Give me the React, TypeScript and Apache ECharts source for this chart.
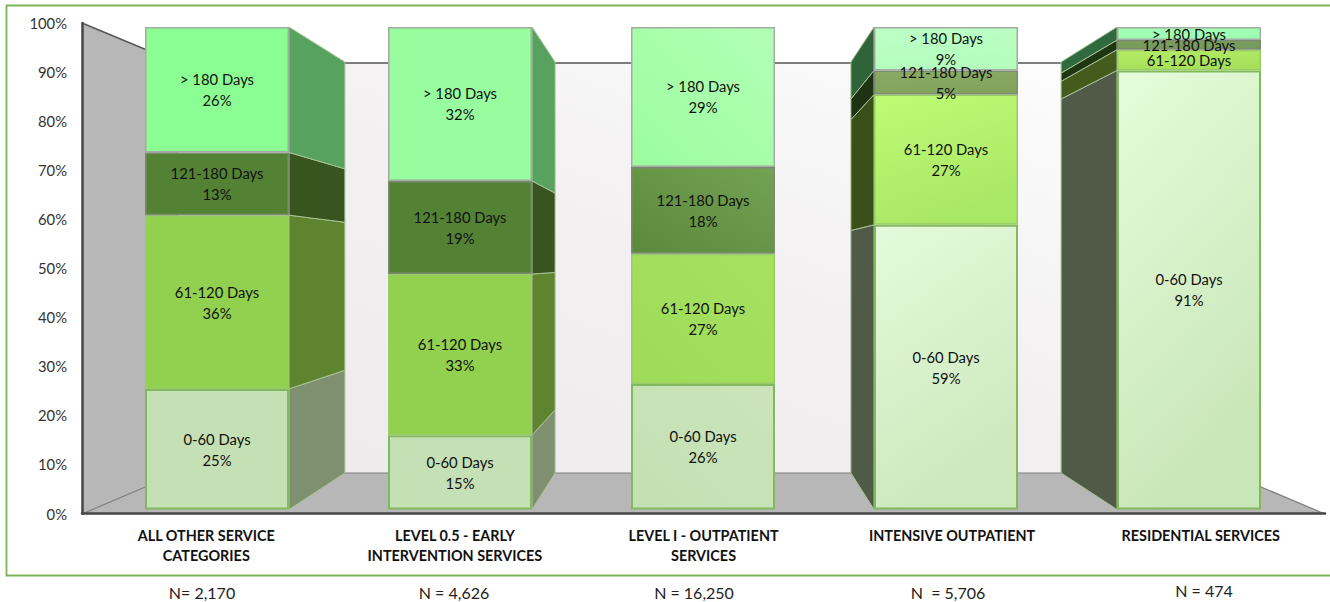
import React, { useEffect, useRef } from "react";
import * as echarts from "echarts";

const categories = [
  "ALL OTHER SERVICE\nCATEGORIES",
  "LEVEL 0.5 - EARLY\nINTERVENTION SERVICES",
  "LEVEL I - OUTPATIENT\nSERVICES",
  "INTENSIVE OUTPATIENT",
  "RESIDENTIAL SERVICES",
];
const sampleSizes = ["N= 2,170", "N = 4,626", "N = 16,250", "N  = 5,706", "N = 474"];
const sampleX = [202, 454, 694, 948, 1204];
const sampleY = [592, 592, 592, 592, 590];

const bucketNames = ["0-60 Days", "61-120 Days", "121-180 Days", "> 180 Days"];
const days0to60 = [25, 15.4, 26, 59, 91];
const days61to120 = [36, 33.4, 27, 27, 4.3];
const days121to180 = [13, 19.3, 18, 5, 2];
const daysOver180 = [26, 31.9, 29, 9, 2.7];
const bucketValues = [days0to60, days61to120, days121to180, daysOver180];

// Percentages are only printed on segments tall enough to hold two lines.
const percentThreshold = 5;

type Fill = string | [string, string];
const frontFills: Fill[][] = [
  ["#c5e0b4", "#c5e0b4", ["#c4e0b2", "#cbe4bb"], ["#e4fbdb", "#cde8bd"], ["#e5fddb", "#c9e6b8"]],
  ["#92d050", "#92d050", ["#9ddb58", "#a6e260"], ["#bffc74", "#a9e766"], ["#b4ec64", "#a6e05a"]],
  ["#548235", "#548235", ["#5c893c", "#72a253"], ["#8aaa62", "#82a45c"], ["#7ba15a", "#74995a"]],
  ["#8afd93", "#97fd9f", ["#9cfd9e", "#b2ffb6"], ["#bcffc6", "#b4fdbd"], ["#a2ffb6", "#9cfdb0"]],
];
const sideFills = [
  ["#7f9070", "#7f9070", "#7f9070", "#4f5b46", "#4f5b46"],
  ["#5e8430", "#5e8430", "#5e8430", "#3b4f1a", "#435c1e"],
  ["#38541f", "#38541f", "#38541f", "#1e3312", "#1f3612"],
  ["#58a260", "#58a260", "#58a260", "#2f6438", "#2f6b3e"],
];
const frontBorders = ["#82b95f", "#9acb68", "#7d8a72", "#a3aca3"];

// Projection of the front plane towards the back wall.
const VANISH_X = 703;
const DEPTH_X = 0.865;
const FRONT_TOP = 27;
const FRONT_BOTTOM = 509.5;
const BACK_TOP = 62;
const BACK_BOTTOM = 473;
const BAR_WIDTH = 144;

const backX = (x: number) => VANISH_X + (x - VANISH_X) * DEPTH_X;
const backY = (y: number) =>
  BACK_TOP + ((y - FRONT_TOP) * (BACK_BOTTOM - BACK_TOP)) / (FRONT_BOTTOM - FRONT_TOP);

// The middle column is shaded diagonally, the outer ones mostly top to bottom.
const toPaint = (fill: Fill, cat: number) => {
  if (typeof fill === "string") return fill;
  const stops = [
    { offset: 0, color: fill[0] },
    { offset: 1, color: fill[1] },
  ];
  return cat === 2
    ? new echarts.graphic.LinearGradient(0, 1, 1, 0, stops)
    : new echarts.graphic.LinearGradient(0, 0, 0.35, 1, stops);
};

const sideRows: number[][] = [];
categories.forEach((_, cat) => {
  let base = 0;
  bucketValues.forEach((values, bucket) => {
    sideRows.push([cat, base, base + values[cat], bucket]);
    base += values[cat];
  });
});

const renderSide = (params: any, api: any) => {
  const cat = api.value(0);
  const low = api.coord([cat, api.value(1)]);
  const high = api.coord([cat, api.value(2)]);
  const centre = low[0];
  if (Math.abs(centre - VANISH_X) < 1) return null;
  const x = centre < VANISH_X ? centre + BAR_WIDTH / 2 : centre - BAR_WIDTH / 2;
  return {
    type: "polygon",
    shape: {
      points: [
        [x, high[1]],
        [backX(x), backY(high[1])],
        [backX(x), backY(low[1])],
        [x, low[1]],
      ],
    },
    style: {
      fill: sideFills[api.value(3)][cat],
      stroke: "#a8c296",
      lineWidth: 1,
    },
  };
};

const barSeries = bucketNames.map((name, bucket) => ({
  type: "bar",
  name,
  stack: "days",
  xAxisIndex: 1,
  yAxisIndex: 1,
  barWidth: BAR_WIDTH,
  z: 3,
  data: bucketValues[bucket].map((value, cat) => ({
    value,
    itemStyle: {
      color: toPaint(frontFills[bucket][cat], cat),
      borderColor: frontBorders[bucket],
      borderWidth: bucket === 0 ? 2 : 1.5,
    },
  })),
  label: {
    show: true,
    position: "inside",
    color: "#111111",
    fontFamily: "Lato",
    fontSize: 14.8,
    lineHeight: 21,
    formatter: (p: any) =>
      p.value < percentThreshold ? name : `${name}\n${Math.round(p.value)}%`,
  },
}));

const wallGradient = new echarts.graphic.LinearGradient(0, 1, 1, 0, [
  { offset: 0, color: "#eceaeb" },
  { offset: 0.5, color: "#f2f0f1" },
  { offset: 1, color: "#ffffff" },
]);

const option = {
  animation: false,
  backgroundColor: "#ffffff",
  grid: [
    { left: 82, top: 23, width: 1243, height: 490.5 },
    { left: 95.5, top: FRONT_TOP, width: 1215, height: FRONT_BOTTOM - FRONT_TOP },
  ],
  xAxis: [
    {
      type: "category",
      gridIndex: 0,
      data: categories,
      z: 1,
      axisTick: { show: false },
      axisLine: { lineStyle: { color: "#454545", width: 2.5 } },
      axisLabel: {
        interval: 0,
        margin: 12,
        fontFamily: "Lato",
        fontSize: 14.4,
        fontWeight: "bold",
        lineHeight: 20,
        color: "#111111",
        verticalAlign: "top",
      },
    },
    {
      type: "category",
      gridIndex: 1,
      data: categories,
      axisTick: { show: false },
      axisLine: { show: false },
      axisLabel: { show: false },
    },
  ],
  yAxis: [
    {
      type: "value",
      gridIndex: 0,
      min: 0,
      max: 100,
      interval: 10,
      z: 1,
      axisLine: { show: true, lineStyle: { color: "#454545", width: 2.5 } },
      axisTick: { show: false },
      splitLine: { show: false },
      axisLabel: {
        margin: 15,
        fontFamily: "Lato",
        fontSize: 14.8,
        color: "#333333",
        formatter: "{value}%",
      },
    },
    {
      type: "value",
      gridIndex: 1,
      min: 0,
      max: 100,
      show: false,
      splitLine: { show: false },
    },
  ],
  graphic: [
    {
      type: "rect",
      z: 0,
      shape: { x: 6.5, y: 5.5, width: 1340, height: 570 },
      style: { fill: "none", stroke: "#7cb35a", lineWidth: 1.8 },
    },
    {
      type: "polygon",
      z: 0,
      shape: { points: [[178, 63], [1228, 63], [1228, 473], [178, 473]] },
      style: { fill: wallGradient },
    },
    {
      type: "polygon",
      z: 0,
      shape: { points: [[82, 23], [178, 63], [178, 473], [82, 514]] },
      style: { fill: "#b7b7b7" },
    },
    {
      type: "polygon",
      z: 0,
      shape: { points: [[82, 514], [178, 473], [1228, 473], [1325, 514]] },
      style: { fill: "#b7b7b7" },
    },
    {
      type: "polyline",
      z: 0,
      shape: { points: [[82, 23], [178, 63], [1228, 63]] },
      style: { fill: "none", stroke: "#555555", lineWidth: 1.5 },
    },
    {
      type: "polyline",
      z: 0,
      shape: { points: [[82, 514], [178, 473], [1228, 473], [1325, 514]] },
      style: { fill: "none", stroke: "#7e7e7e", lineWidth: 1.2 },
    },
    ...sampleSizes.map((text, i) => ({
      type: "text",
      z: 1,
      x: sampleX[i],
      y: sampleY[i],
      style: {
        text,
        fill: "#222222",
        font: "16px Lato",
        textAlign: "center",
        textVerticalAlign: "middle",
      },
    })),
  ],
  series: [
    {
      type: "custom",
      xAxisIndex: 1,
      yAxisIndex: 1,
      z: 2,
      silent: true,
      renderItem: renderSide,
      data: sideRows,
      encode: { x: 0, y: [1, 2] },
    },
    ...barSeries,
  ],
};

export default function App() {
  const ref = useRef<HTMLDivElement>(null);
  useEffect(() => {
    document.body.style.margin = "0";
    const chart = echarts.init(ref.current!, undefined, { renderer: "svg" });
    chart.setOption(option as any);
    return () => chart.dispose();
  }, []);
  return <div ref={ref} style={{ width: 1330, height: 602, overflow: "hidden" }} />;
}
